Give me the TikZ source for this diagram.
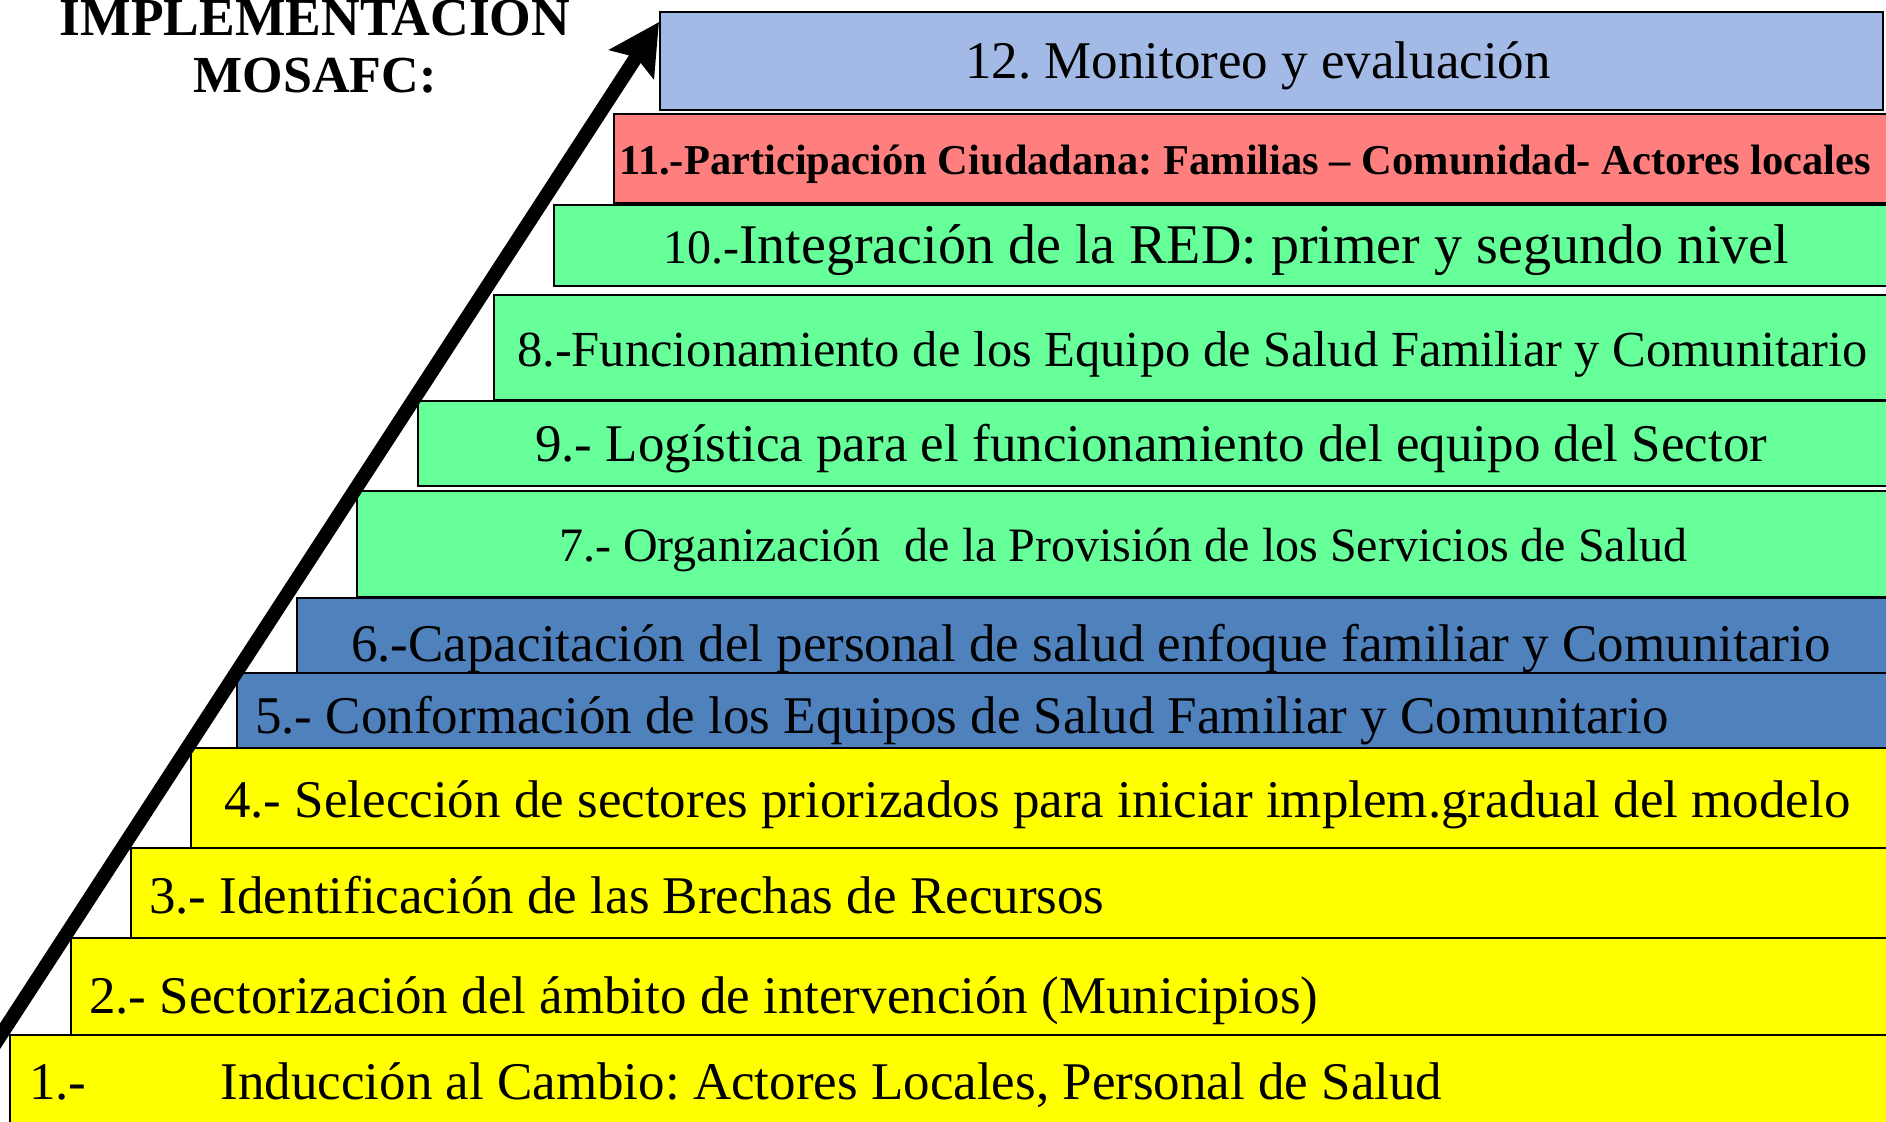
\documentclass[tikz,border=0pt]{standalone}
\usepackage{fontspec}
\setmainfont{Liberation Serif}
\frenchspacing
\usetikzlibrary{arrows.meta}
\definecolor{stepblue}{RGB}{163,185,230}
\definecolor{stepred}{RGB}{255,127,127}
\definecolor{stepgreen}{RGB}{102,255,153}
\definecolor{stepdark}{RGB}{79,129,189}
\definecolor{stepyellow}{RGB}{255,255,0}
\tikzset{
  stepbox/.style={rectangle,draw=black,line width=2pt,inner sep=0pt,anchor=north west},
  lbl/.style={anchor=base west,inner sep=0pt,font=\fontsize{53}{60}\selectfont},
  ttl/.style={anchor=base,inner sep=0pt,font=\bfseries\fontsize{52}{60}\selectfont}
}
\begin{document}
\begin{tikzpicture}[x=1pt,y=-1pt]
        \useasboundingbox (0,0) rectangle (1886,1121);
        \clip (0,0) rectangle (1886,1121);
        \node[stepbox,fill=stepblue,minimum width=1223pt,minimum height=98pt](s12) at (659,11) {};
        \node[stepbox,fill=stepred,minimum width=1287pt,minimum height=89pt](s11) at (613,113) {};
        \node[stepbox,fill=stepgreen,minimum width=1347pt,minimum height=81pt](s10) at (553,204) {};
        \node[stepbox,fill=stepgreen,minimum width=1407pt,minimum height=105pt](s8) at (493,294) {};
        \node[stepbox,fill=stepgreen,minimum width=1483pt,minimum height=85pt](s9) at (417,400) {};
        \node[stepbox,fill=stepgreen,minimum width=1544pt,minimum height=106pt](s7) at (356,490) {};
        \node[stepbox,fill=stepdark,minimum width=1604pt,minimum height=75pt](s6) at (296,597) {};
        \node[stepbox,fill=stepdark,minimum width=1664pt,minimum height=75pt](s5) at (236,672) {};
        \node[stepbox,fill=stepyellow,minimum width=1710pt,minimum height=100pt](s4) at (190,747) {};
        \node[stepbox,fill=stepyellow,minimum width=1770pt,minimum height=90pt](s3) at (130,847) {};
        \node[stepbox,fill=stepyellow,minimum width=1830pt,minimum height=97pt](s2) at (70,937) {};
        \node[stepbox,fill=stepyellow,minimum width=1891pt,minimum height=100pt](s1) at (9,1034) {};

        \node[lbl,anchor=base](t12) at (1258,79) {12. Monitoreo y evaluación};
        \node[lbl,font=\bfseries\fontsize{42.5}{50}\selectfont](t11) at (619,174)
            {11.-Participación Ciudadana: Familias – Comunidad- Actores locales};
        \node[lbl,font=\fontsize{56}{62}\selectfont](t10) at (663,263)
            {{\fontsize{48}{56}\selectfont 10.-}Integración de la RED: primer y segundo nivel};
        \node[lbl,font=\fontsize{50.5}{58}\selectfont](t8) at (517,366)
            {8.-Funcionamiento de los Equipo de Salud Familiar y Comunitario};
        \node[lbl](t9) at (535,461) {9.- Logística para el funcionamiento del equipo del Sector};
        \node[lbl,font=\fontsize{48}{56}\selectfont](t7) at (559,561)
            {7.- Organización\ \ de la Provisión de los Servicios de Salud};
        \node[lbl](t6) at (351,661) {6.-Capacitación del personal de salud enfoque familiar y Comunitario};
        \node[lbl](t5) at (255,733) {5.- Conformación de los Equipos de Salud Familiar y Comunitario};
        \node[lbl](t4) at (224,817) {4.- Selección de sectores priorizados para iniciar implem.gradual del modelo};
        \node[lbl](t3) at (149,913) {3.- Identificación de las Brechas de Recursos};
        \node[lbl](t2) at (89,1013) {2.- Sectorización del ámbito de intervención (Municipios)};
        \node[lbl](t1) at (29,1099) {1.-\hspace{134pt}Inducción al Cambio: Actores Locales, Personal de Salud};

        \node[ttl,font=\bfseries\fontsize{53.5}{60}\selectfont](title1) at (315,36) {IMPLEMENTACION};
        \node[ttl](title2) at (315,93) {MOSAFC:};

        \coordinate (base) at (-20,1067);
        \coordinate (tip) at (659,22);
        \draw[line width=14pt,-{Stealth[length=50pt,width=52pt,inset=8pt]}] (base) -- (tip);
\end{tikzpicture}
\end{document}
